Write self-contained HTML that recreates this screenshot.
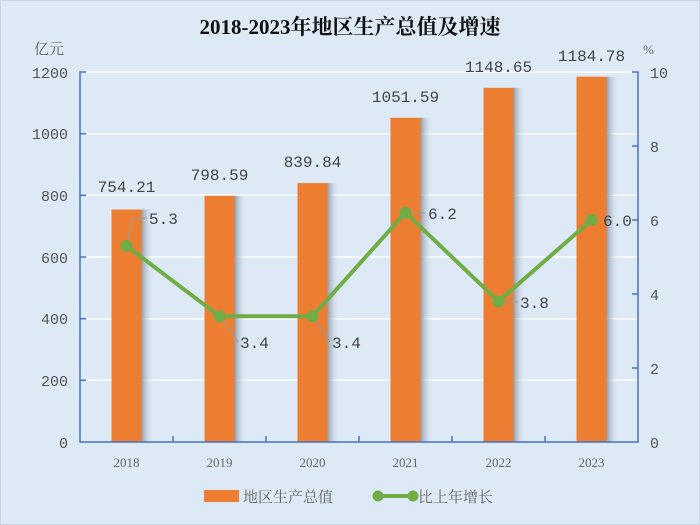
<!DOCTYPE html>
<html><head><meta charset="utf-8"><style>
body{margin:0;background:#dde9f5}
svg{display:block}
text{font-family:"Liberation Serif","Noto Serif CJK SC",serif}
.m{font-family:"Liberation Mono",monospace}
</style></head><body>
<svg width="700" height="525" viewBox="0 0 700 525" xmlns="http://www.w3.org/2000/svg">
<defs>
<linearGradient id="sh" x1="0" x2="1" y1="0" y2="0">
<stop offset="0" stop-color="#7f8a96" stop-opacity="0.8"/>
<stop offset="1" stop-color="#dde9f5" stop-opacity="0"/>
</linearGradient>
</defs>
<rect width="700" height="525" fill="#dde9f5"/>
<rect x="0.5" y="0.5" width="699" height="524" fill="none" stroke="#c9d6e4"/>
<text x="350" y="34" text-anchor="middle" font-size="21" font-weight="bold" fill="#111">2018-2023年地区生产总值及增速</text>
<g stroke="#ffffff" stroke-width="1.5">
<line x1="80" x2="638" y1="72" y2="72"/><line x1="80" x2="638" y1="133.7" y2="133.7"/>
<line x1="80" x2="638" y1="195.3" y2="195.3"/><line x1="80" x2="638" y1="257" y2="257"/>
<line x1="80" x2="638" y1="318.7" y2="318.7"/><line x1="80" x2="638" y1="380.3" y2="380.3"/>
</g>
<g font-size="15" fill="#555" text-anchor="end" class="m">
<text class="m" x="68" y="78">1200</text><text class="m" x="68" y="139">1000</text><text class="m" x="68" y="201">800</text>
<text class="m" x="68" y="263">600</text><text class="m" x="68" y="324">400</text><text class="m" x="68" y="386">200</text><text class="m" x="68" y="448">0</text>
</g>
<g font-size="15" fill="#555" text-anchor="start">
<text class="m" x="650" y="78">10</text><text class="m" x="650" y="152">8</text><text class="m" x="650" y="226">6</text>
<text class="m" x="650" y="300">4</text><text class="m" x="650" y="374">2</text><text class="m" x="650" y="448">0</text>
</g>
<text x="34" y="54" font-size="15" fill="#666">亿元</text>
<text x="643" y="54" font-size="13" fill="#666">%</text>
<g>
<rect x="141.5" y="209.5" width="12" height="232.5" fill="url(#sh)"/>
<rect x="234.5" y="195.8" width="12" height="246.2" fill="url(#sh)"/>
<rect x="327.5" y="183.1" width="12" height="258.9" fill="url(#sh)"/>
<rect x="420.5" y="117.8" width="12" height="324.2" fill="url(#sh)"/>
<rect x="513.5" y="87.8" width="12" height="354.2" fill="url(#sh)"/>
<rect x="606.5" y="76.7" width="12" height="365.3" fill="url(#sh)"/>
</g>
<g fill="#ed7d31">
<rect x="111.5" y="209.5" width="30" height="232.5"/>
<rect x="204.5" y="195.8" width="30" height="246.2"/>
<rect x="297.5" y="183.1" width="30" height="258.9"/>
<rect x="390.5" y="117.8" width="30" height="324.2"/>
<rect x="483.5" y="87.8" width="30" height="354.2"/>
<rect x="576.5" y="76.7" width="30" height="365.3"/>
</g>
<g stroke="#4472c4" stroke-width="1.5" fill="none">
<polyline points="86,72 80,72 80,442 638,442 638,72 632,72"/>
<line x1="80" x2="86" y1="133.7" y2="133.7"/><line x1="80" x2="86" y1="195.3" y2="195.3"/>
<line x1="80" x2="86" y1="257" y2="257"/><line x1="80" x2="86" y1="318.7" y2="318.7"/>
<line x1="80" x2="86" y1="380.3" y2="380.3"/>
<line x1="173" x2="173" y1="442" y2="436"/><line x1="266" x2="266" y1="442" y2="436"/>
<line x1="359" x2="359" y1="442" y2="436"/><line x1="452" x2="452" y1="442" y2="436"/>
<line x1="545" x2="545" y1="442" y2="436"/>
<line x1="638" x2="632" y1="146" y2="146"/><line x1="638" x2="632" y1="220" y2="220"/>
<line x1="638" x2="632" y1="294" y2="294"/><line x1="638" x2="632" y1="368" y2="368"/>
</g>
<g font-size="16" fill="#444" text-anchor="middle">
<text class="m" x="126.5" y="192">754.21</text><text class="m" x="219.5" y="180">798.59</text>
<text class="m" x="312.5" y="167">839.84</text><text class="m" x="405.5" y="102">1051.59</text>
<text class="m" x="498.5" y="72">1148.65</text><text class="m" x="591.5" y="61">1184.78</text>
</g>
<g stroke="#999" stroke-width="1" fill="none">
<polyline points="126.5,246 133,218 147,218"/>
<polyline points="219.5,316 238,342"/>
<polyline points="312.5,316 330,342"/>
<polyline points="405.5,212.6 425,213"/>
<polyline points="498.5,301.4 518,302"/>
</g>
<polyline points="126.5,245.9 219.5,316.2 312.5,316.2 405.5,212.6 498.5,301.4 591.5,220" fill="none" stroke="#70ad47" stroke-width="4" stroke-linejoin="round"/>
<g fill="#70ad47">
<circle cx="126.5" cy="245.9" r="6"/><circle cx="219.5" cy="316.2" r="6"/>
<circle cx="312.5" cy="316.2" r="6"/><circle cx="405.5" cy="212.6" r="6"/>
<circle cx="498.5" cy="301.4" r="6"/><circle cx="591.5" cy="220" r="6"/>
</g>
<g font-size="16" fill="#444">
<text class="m" x="149" y="224">5.3</text><text class="m" x="240" y="348">3.4</text><text class="m" x="332" y="348">3.4</text>
<text class="m" x="428" y="219">6.2</text><text class="m" x="520" y="308">3.8</text><text class="m" x="603" y="226">6.0</text>
</g>
<g font-size="13" fill="#666" text-anchor="middle">
<text x="126.5" y="467">2018</text><text x="219.5" y="467">2019</text><text x="312.5" y="467">2020</text>
<text x="405.5" y="467">2021</text><text x="498.5" y="467">2022</text><text x="591.5" y="467">2023</text>
</g>
<rect x="204" y="490" width="35" height="12" fill="#ed7d31"/>
<text x="243" y="502" font-size="15" fill="#666">地区生产总值</text>
<line x1="378" x2="413" y1="496" y2="496" stroke="#70ad47" stroke-width="4"/>
<circle cx="378" cy="496" r="5.5" fill="#70ad47"/><circle cx="413" cy="496" r="5.5" fill="#70ad47"/>
<text x="418" y="502" font-size="15" fill="#666">比上年增长</text>
</svg>
</body></html>
